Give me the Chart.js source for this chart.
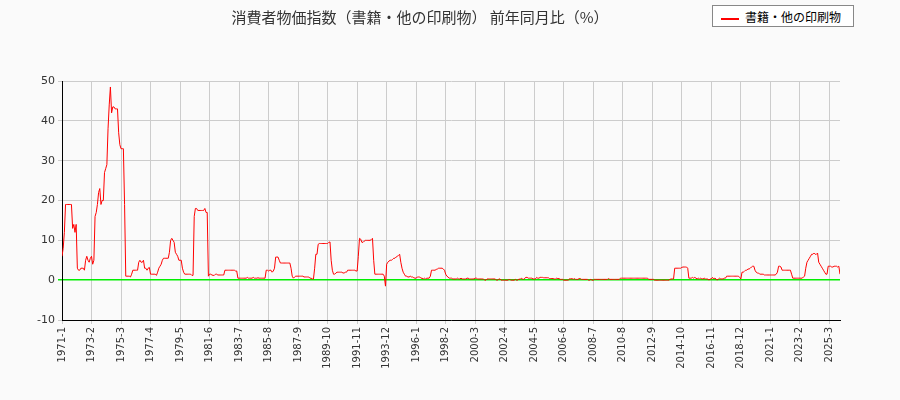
<!DOCTYPE html>
<html>
<head>
<meta charset="utf-8">
<script src="https://cdn.jsdelivr.net/npm/chart.js@4.4.1/dist/chart.umd.min.js"></script>
<style>
  body { margin: 0; background: #fafafa; font-family: "Noto Sans CJK JP", sans-serif; }
  #wrap { position: relative; width: 900px; height: 400px; }
  #legend { position: absolute; left: 712px; top: 5px; width: 142px; height: 22px; border: 1px solid #888; background: #fff;
            font-size: 12px; line-height: 22px; box-sizing: border-box; }
  #legend span.ln { display: inline-block; width: 18px; height: 2px; background: #f00; vertical-align: middle; margin: 0 6px 0 8px; }
</style>
</head>
<body>
<div id="wrap">
  <canvas id="c" width="900" height="400"></canvas>
  <div id="legend"><span class="ln"></span>書籍・他の印刷物</div>
</div>
<script>
const START_YEAR = 1971;
const TITLE = '消費者物価指数（書籍・他の印刷物） 前年同月比（%）';

// 月次の前年同月比（%）、年ごとに12か月
const y1971 = [6,8,12,19,19,19,19,19,19,13,14,12];
const y1972 = [14,3,2.5,2.5,3,3,3,2.5,5,6,5,4.5];
const y1973 = [5.5,6,4,5,16,17,19,22,23,19,20,20];
const y1974 = [27,28,29,38,44,48.5,42,43.5,43.5,43,43,43];
const y1975 = [37,34,33,33,33,19,1,1,1,1,0.8,1.5];
const y1976 = [2.5,2.5,2.5,2.5,2.5,4.5,5,4.5,4.5,5,3,3];
const y1977 = [2.5,3,3.2,1.5,1.5,1.5,1.5,1.5,1.2,2,3,3.5];
const y1978 = [4,5,5.5,5.5,5.5,5.5,5.5,7,10,10.5,10,9.5];
const y1979 = [7,6.5,6,5,5,5,3,2,1.5,1.5,1.5,1.5];
const y1980 = [1.5,1.5,1.2,1.2,16,18,18,17.5,17.5,17.5,17.5,17.5];
const y1981 = [17.5,18,17,17,1,1.5,1.5,1.3,1.2,1.2,1.5,1.5];
const y1982 = [1.3,1.3,1.3,1.3,1.3,1.3,2.5,2.5,2.5,2.5,2.5,2.5];
const y1983 = [2.5,2.5,2.5,2.3,2.3,0.5,0.5,0.5,0.5,0.5,0.5,0.5];
const y1984 = [0.5,0.7,0.5,0.5,0.5,0.5,0.7,0.5,0.5,0.5,0.6,0.5];
const y1985 = [0.5,0.5,0.5,0.5,0.5,2.5,2.5,2.3,2.5,2.5,2,2.3];
const y1986 = [3,5.8,5.8,5.8,5,4.3,4.3,4.3,4.3,4.3,4.3,4.3];
const y1987 = [4.3,4.3,3,1,0.5,0.8,1,1,1,1,1,1];
const y1988 = [1,0.8,0.8,0.8,0.8,0.8,0.5,0.5,0.3,0.3,3,6.5];
const y1989 = [6.5,9,9.2,9.2,9.2,9.2,9.2,9.2,9.2,9.2,9.5,9.6];
const y1990 = [5,2.5,1.5,1.5,1.8,2,2,2,2,2,1.8,1.8];
const y1991 = [2,2,2.5,2.5,2.5,2.5,2.5,2.5,2.5,2.3,2.3,6];
const y1992 = [10.5,10.3,9.5,9.5,9.8,10,10,10,10,10,10.2,10.5];
const y1993 = [5,1.5,1.5,1.5,1.5,1.5,1.5,1.5,1.5,1,-1.5,4];
const y1994 = [4.5,4.8,5,5,5.2,5.5,5.5,5.8,6,6.2,6.5,4.5];
const y1995 = [3,2,1.5,1,1,0.8,0.8,1,0.8,0.8,0.6,0.5];
const y1996 = [0.5,0.8,0.8,0.8,0.5,0.5,0.3,0.5,0.3,0.5,0.5,0.5];
const y1997 = [1,2.5,2.5,2.5,2.5,2.7,2.8,3,3,3,3,2.8];
const y1998 = [2.5,1.5,1,0.8,0.5,0.5,0.5,0.3,0.3,0.3,0.3,0.5];
const y1999 = [0.3,0.3,0.5,0.3,0.3,0.3,0.3,0.5,0.5,0.3,0.3,0.3];
const y2000 = [0.3,0.3,0.5,0.5,0.3,0.3,0.3,0.3,0.3,0.3,0,0];
const y2001 = [0.3,0.3,0.3,0.3,0.3,0.3,0.3,0.3,0,0,0.3,0.3];
const y2002 = [0,0,0,0,0,0,0,0.3,0,0,0,0];
const y2003 = [0.2,0,0,0.3,0.2,0.5,0.3,0.2,0.5,0.7,0.7,0.5];
const y2004 = [0.5,0.5,0.5,0.3,0.3,0.3,0.7,0.5,0.5,0.7,0.7,0.7];
const y2005 = [0.6,0.6,0.6,0.6,0.6,0.4,0.4,0.4,0.4,0.3,0.3,0.5];
const y2006 = [0.4,0.4,0.2,0.2,0.2,0,0,0,0,0,0.4,0.3];
const y2007 = [0.4,0.2,0.4,0.2,0.2,0.2,0.4,0.4,0.2,0.2,0.2,0.2];
const y2008 = [0.2,0.2,0,0,0.2,0,0,0.2,0.2,0.2,0.2,0.2];
const y2009 = [0.2,0.2,0.2,0.2,0.2,0.2,0.2,0.4,0.2,0.2,0.2,0.2];
const y2010 = [0.2,0.2,0.2,0.2,0.2,0.5,0.5,0.5,0.5,0.5,0.5,0.5];
const y2011 = [0.5,0.5,0.5,0.5,0.5,0.5,0.5,0.5,0.5,0.5,0.5,0.5];
const y2012 = [0.5,0.5,0.5,0.5,0.5,0.2,0.2,0.2,0.2,0.2,0,0];
const y2013 = [0,0,0,0,0,0,0,0,0,0,0,0.2];
const y2014 = [0.3,0.3,0.3,3,3,3,3,3,3,3.2,3.3,3.3];
const y2015 = [3.3,3.3,3,0.5,0.5,0.5,0.7,0.5,0.7,0.5,0.3,0.5];
const y2016 = [0.3,0.5,0.3,0.3,0.5,0.3,0.3,0.3,0,0.3,0.3,0.7];
const y2017 = [0.3,0.5,0.3,0,0.3,0.5,0.3,0.3,0.3,0.5,0.5,1];
const y2018 = [1,1,1,1,1,1,1,1,1,1,0.7,0.3];
const y2019 = [2,2,2.2,2.5,2.5,2.8,2.8,3,3.3,3.5,3.5,2.5];
const y2020 = [2,1.8,1.8,1.5,1.5,1.5,1.5,1.3,1.3,1.3,1.3,1.3];
const y2021 = [1.3,1.3,1.3,1.3,1.3,1.5,2,3.5,3.5,3.3,2.5,2.5];
const y2022 = [2.5,2.5,2.5,2.5,2.5,2.5,1.5,0.5,0.5,0.5,0.5,0.5];
const y2023 = [0.5,0.5,0.5,0.5,0.8,1,3,4.5,5,5.5,6,6.5];
const y2024 = [6.5,6.8,6.5,6.5,6.8,4.5,4,3.5,3,2.5,2,1.5];
const y2025 = [1.5,3.5,3.5,3.5,3.3,3.3,3.5,3.5,3.5,3.3,3.5,1.5];

const yearly = [y1971,y1972,y1973,y1974,y1975,y1976,y1977,y1978,y1979,y1980,
  y1981,y1982,y1983,y1984,y1985,y1986,y1987,y1988,y1989,y1990,
  y1991,y1992,y1993,y1994,y1995,y1996,y1997,y1998,y1999,y2000,
  y2001,y2002,y2003,y2004,y2005,y2006,y2007,y2008,y2009,y2010,
  y2011,y2012,y2013,y2014,y2015,y2016,y2017,y2018,y2019,y2020,
  y2021,y2022,y2023,y2024,y2025];

const values = yearly.flat();
const points = values.map((v, i) => ({ x: i, y: v }));

function monthLabel(i) {
    return `${START_YEAR + Math.floor(i / 12)}-${(i % 12) + 1}`;
}

new Chart(document.getElementById('c'), {
    type: 'line',
    data: {
        datasets: [{
            label: '書籍・他の印刷物',
            data: points,
            borderColor: '#ff0000',
            borderWidth: 1,
            pointRadius: 0,
            tension: 0
        }]
    },
    options: {
        responsive: false,
        animation: false,
        layout: { padding: { top: 0, right: 60, left: 0, bottom: 0 } },
        plugins: {
            legend: { display: false },
            tooltip: { enabled: false },
            title: {
                display: true,
                text: TITLE,
                color: '#333',
                font: { size: 15, family: '"Noto Sans CJK JP"', weight: 'normal' },
                padding: { top: 8, bottom: 55 }
            }
        },
        scales: {
            x: {
                type: 'linear',
                min: 0,
                max: values.length - 1,
                afterFit: s => { s.height = 80; },
                afterBuildTicks: s => {
                    const t = [];
                    for (let i = 0; i < values.length; i += 25) t.push({ value: i });
                    s.ticks = t;
                },
                grid: { color: '#cccccc', tickLength: 4 },
                border: { color: '#000' },
                ticks: {
                    color: '#333',
                    font: { size: 10, family: '"DejaVu Sans"' },
                    minRotation: 90,
                    maxRotation: 90,
                    autoSkip: false,
                    callback: v => monthLabel(v)
                }
            },
            y: {
                min: -10,
                max: 50,
                afterFit: s => { s.width = 62; },
                grid: {
                    color: c => c.tick && c.tick.value === 0 ? '#00ee00' : '#cccccc',
                    lineWidth: c => c.tick && c.tick.value === 0 ? 1.5 : 1,
                    tickLength: 4
                },
                border: { color: '#000' },
                ticks: {
                    stepSize: 10,
                    color: '#333',
                    font: { size: 11, family: '"DejaVu Sans"' }
                }
            }
        }
    }
});
</script>
</body>
</html>
